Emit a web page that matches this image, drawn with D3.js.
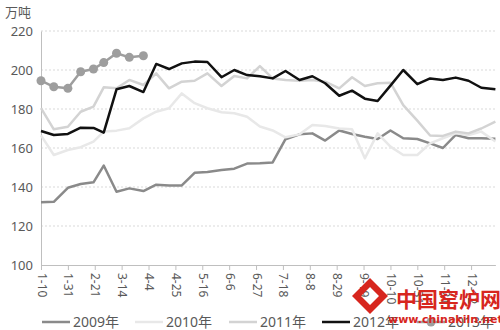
<!DOCTYPE html>
<html>
<head>
<meta charset="utf-8">
<script src="https://cdn.jsdelivr.net/npm/d3@7"></script>
<style>
  body { margin: 0; background: #fff; }
  svg { font-family: "Noto Sans", "Noto Sans CJK SC", sans-serif; }
</style>
</head>
<body>
<div id="viz"></div>
<script>
// dates of the data points (every ten days)
const dates = ["1-10","1-20","1-31","2-10","2-20","2-28","3-10","3-20","3-31",
  "4-10","4-20","4-30","5-10","5-20","5-31","6-10","6-20","6-30",
  "7-10","7-20","7-31","8-10","8-20","8-31","9-10","9-20","9-30",
  "10-10","10-20","10-31","11-10","11-20","11-30","12-10","12-20","12-31"];

// tick labels on x axis
const tickLabels = ["1-10","1-31","2-21","3-14","4-4","4-25","5-16","6-6","6-27",
  "7-18","8-8","8-29","9-19","10-10","10-31","11-21","12-12"];

const yTicks = [100, 120, 140, 160, 180, 200, 220];

// values, 万吨
const v2009 = [132.2,132.4,139.6,141.5,142.4,151,137.6,139.3,137.9,
  141.2,140.8,140.8,147.3,147.7,148.7,149.4,152,152.2,
  152.6,164.5,167,167.5,163.8,169,167.2,165.8,164.6,
  169,165,164.6,162.4,160,166.7,165,165,164.8];
const v2010 = [166.5,156.4,159,160.4,163.3,168.4,168.9,170.1,175.2,
  178.6,180.4,188,183,180.4,178.3,177.8,176,171,
  169,165.5,167,171.8,171.3,170,169.6,154.7,167.5,
  160.7,156.4,156.4,162.4,165,167.5,166.7,168.4,163.3];
const v2011 = [180.4,169.6,170.9,178.6,181.2,191.1,190.6,194.9,192.3,
  198.3,190.6,194,194.5,198.3,191.8,196.9,195.7,202,
  195.7,194.9,194.5,194.9,194,190.6,196.3,191.8,193.2,
  193.5,182,174,166.4,166.2,168.4,167.5,170,173.5];
const v2012 = [168.7,166.7,167.2,170.4,170.3,167.9,190.1,191.8,188.7,
  203.1,200.5,203.4,204.3,204.1,196.3,200,197.4,196.8,
  195.7,199.5,194.9,196.8,193.2,186.8,189.4,185.3,184.1,
  192,200,192.7,195.7,194.9,196.1,194.5,190.9,190.1];
const v2013 = [194.5,191.4,190.6,199.1,200.5,203.8,208.6,206.5,207.3];

const seriesNames = ["2009年","2010年","2011年","2012年","2013年"];
const seriesValues = [v2009, v2010, v2011, v2012, v2013];
const seriesColors = ["#8a8a8a", "#e8e8e8", "#d3d3d3", "#111111", "#9e9e9e"];

const width = 500, height = 330;
const margin = {left: 41, top: 31, right: 5, bottom: 65};

const parse = d3.timeParse("%Y-%m-%d");
const toDate = s => { const p = s.split("-"); return parse("2013-" + p[0] + "-" + p[1]); };

const svg = d3.select("#viz").append("svg")
  .attr("width", width).attr("height", height);

const x = d3.scaleTime()
  .domain([toDate("1-10"), toDate("12-31")])
  .range([margin.left, width - margin.right + 0.4]);
const y = d3.scaleLinear().domain([100, 220]).range([height - margin.bottom, margin.top]);

// unit label
svg.append("text").attr("x", 5).attr("y", 17)
  .attr("font-size", 13).attr("fill", "#595959").text("万吨");

// gridlines
svg.append("g").selectAll("line")
  .data(yTicks.slice(1))
  .enter().append("line")
  .attr("x1", margin.left).attr("x2", width - margin.right)
  .attr("y1", d => y(d)).attr("y2", d => y(d))
  .attr("stroke", "#d9d9d9").attr("stroke-dasharray", "2,2");

// y axis
const yAxis = svg.append("g")
  .attr("transform", "translate(" + margin.left + ",0)")
  .call(d3.axisLeft(y).tickValues(yTicks).tickSize(0).tickPadding(8));
yAxis.select(".domain").attr("stroke", "#bfbfbf");
yAxis.selectAll("text").attr("font-size", 13).attr("fill", "#595959")
  .attr("font-family", "\"Noto Sans\", sans-serif");

// x axis
const xAxis = svg.append("g")
  .attr("transform", "translate(0," + y(100) + ")")
  .call(d3.axisBottom(x).tickValues(tickLabels.map(toDate))
    .tickFormat((d, i) => tickLabels[i]).tickSize(5).tickSizeOuter(0));
xAxis.select(".domain").attr("stroke", "#bfbfbf");
xAxis.selectAll(".tick line").attr("stroke", "#bfbfbf");
xAxis.selectAll("text")
  .attr("font-size", 12).attr("fill", "#595959")
  .attr("font-family", "\"Noto Sans\", sans-serif")
  .attr("text-anchor", "start")
  .attr("dy", null).attr("y", 0)
  .attr("transform", "translate(-4,8) rotate(90)");

// lines
const line = d3.line()
  .x((d, i) => x(toDate(dates[i])))
  .y(d => y(d));

seriesValues.forEach((vals, k) => {
  svg.append("path")
    .datum(vals)
    .attr("d", line)
    .attr("fill", "none")
    .attr("stroke", seriesColors[k])
    .attr("stroke-width", 2.5)
    .attr("stroke-linejoin", "round");
});

// markers for 2013
svg.append("g").selectAll("circle")
  .data(v2013)
  .enter().append("circle")
  .attr("cx", (d, i) => x(toDate(dates[i])))
  .attr("cy", d => y(d))
  .attr("r", 4.5)
  .attr("fill", seriesColors[4]);

// legend
const legendX = [42, 135, 229, 322, 417];
const legend = svg.append("g").selectAll("g")
  .data(seriesNames)
  .enter().append("g")
  .attr("transform", (d, i) => "translate(" + legendX[i] + ",322)");
legend.append("line")
  .attr("x1", 0).attr("x2", 28)
  .attr("stroke", (d, i) => seriesColors[i])
  .attr("stroke-width", 2.5);
legend.filter((d, i) => i === 4).append("circle")
  .attr("cx", 14).attr("r", 4.5).attr("fill", seriesColors[4]);
legend.append("text")
  .attr("x", 31).attr("y", 5)
  .attr("font-size", 14).attr("fill", "#595959")
  .text(d => d);

// watermark
const wm = svg.append("g").attr("transform", "translate(352,290)");
wm.append("path")
  .attr("d", "M18,-12 L36,6 L18,24 L0,6 Z M18,-3 L27,6 L18,15 L9,6 Z")
  .attr("fill", "#d7261e").attr("fill-rule", "evenodd");
wm.append("text").attr("x", 44).attr("y", 17)
  .attr("font-size", 21).attr("font-weight", "bold").attr("fill", "#d7261e")
  .attr("font-family", "\"Noto Sans CJK SC\", sans-serif")
  .text("中国窑炉网");
wm.append("text").attr("x", 36).attr("y", 33)
  .attr("font-size", 11).attr("font-weight", "bold").attr("fill", "#d7261e")
  .attr("font-family", "\"DejaVu Sans\", sans-serif")
  .text("www.chinakiln.net");
</script>
</body>
</html>
